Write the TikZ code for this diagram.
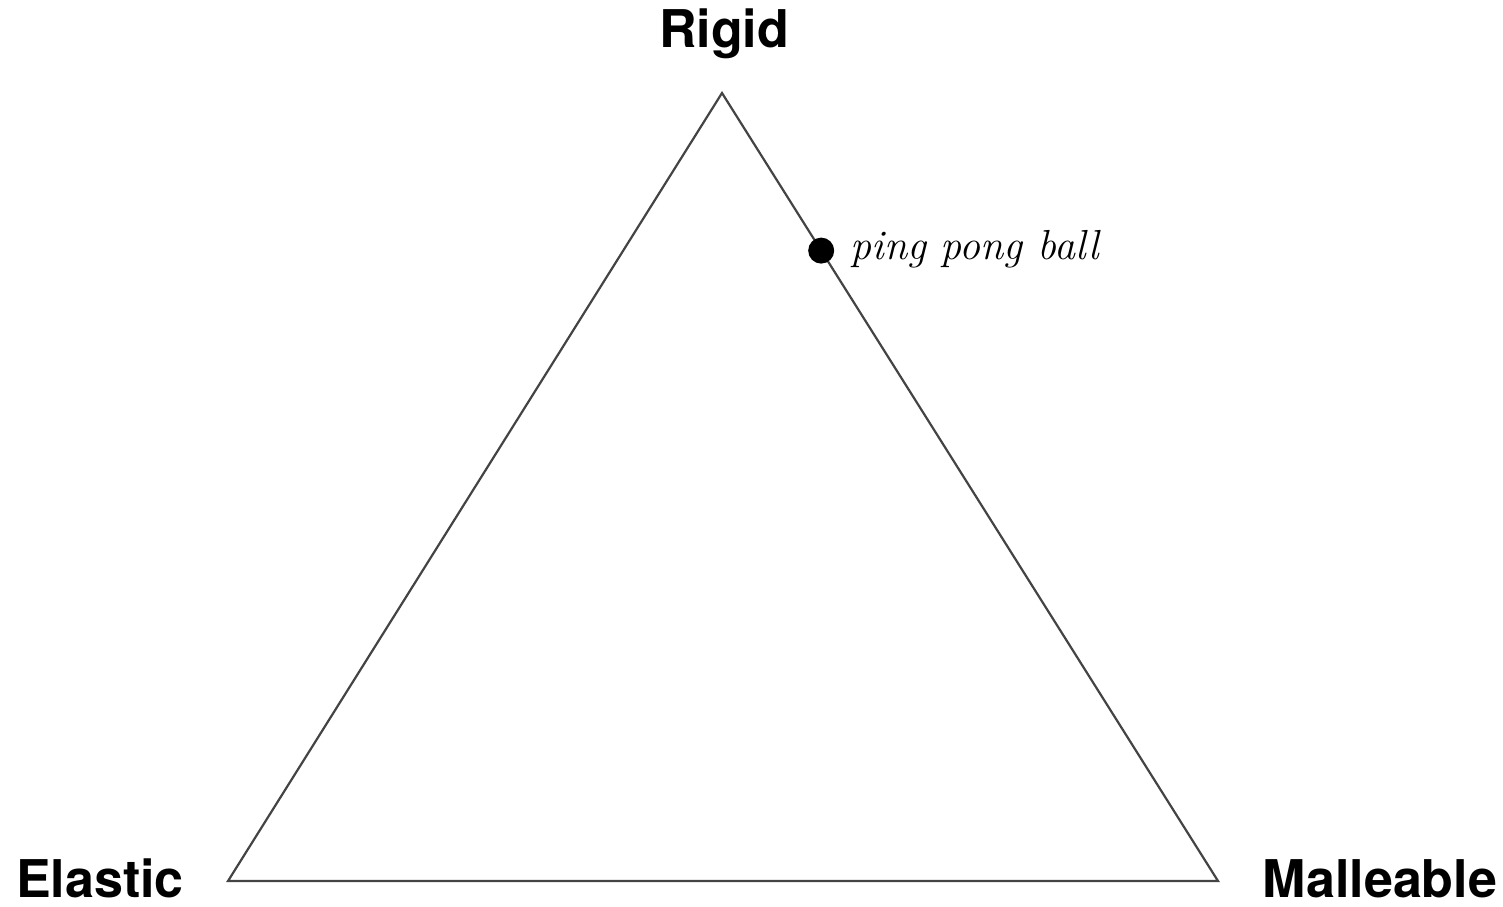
\documentclass[tikz,border=0pt]{standalone}
\usepackage{fontspec}
\newfontfamily\labelfont{TeX Gyre Heros}
\usetikzlibrary{positioning,calc}
\definecolor{edgegray}{HTML}{444444}

\begin{document}
\begin{tikzpicture}[
  x=0.5pt, y=-0.5pt,
  corner/.style={font=\labelfont\bfseries\fontsize{26}{30}\selectfont, inner sep=0pt, anchor=base},
  side/.style={draw=edgegray, line width=1.1pt, line join=miter},
  ball/.style={circle, fill=black, inner sep=0pt, minimum size=13pt},
  note/.style={font=\itshape\fontsize{21}{24}\selectfont, inner sep=0pt, anchor=base west}
]
\useasboundingbox (0,0) rectangle (1503,906);

\coordinate (top) at (722,93);
\coordinate (left) at (228,881);
\coordinate (right) at (1218,881);

\draw[side] (top) -- (right) -- (left) -- cycle;

\node[corner] (rigid) at (724,47) {Rigid};
\node[corner] (elastic) at (100,897) {Elastic};
\node[corner] (malleable) at (1380,897) {Malleable};

\node[ball] (pingpong) at ($(top)!0.2!(right)$) {};
\node[note] (pinglabel) at (850,259) {ping pong ball};
\end{tikzpicture}
\end{document}
